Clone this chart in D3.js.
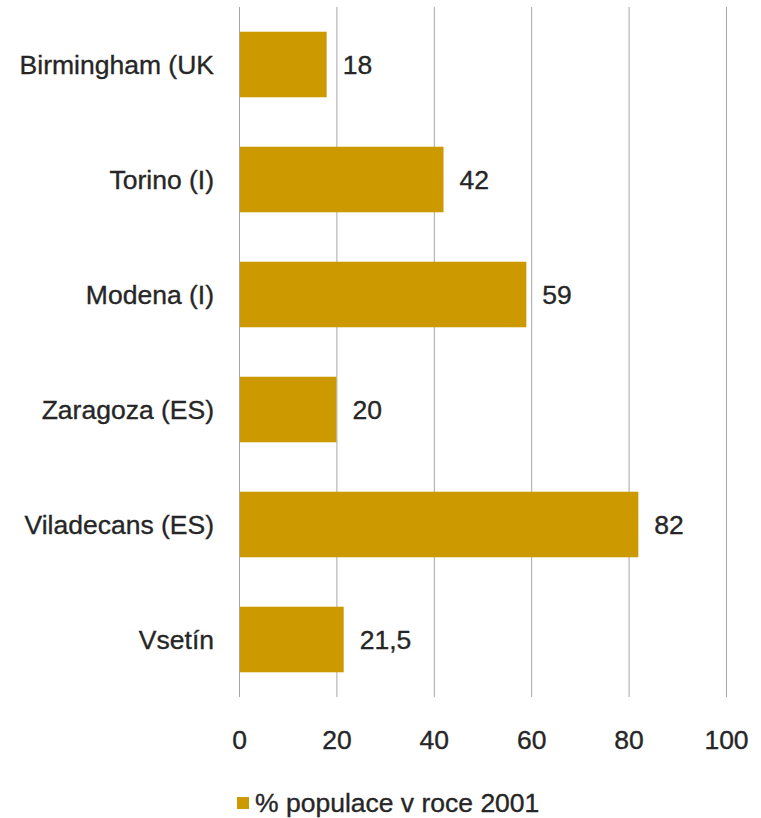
<!DOCTYPE html>
<html><head><meta charset="utf-8">
<script src="https://cdn.jsdelivr.net/npm/d3@7"></script>
<style>
html,body{margin:0;padding:0;background:#fff;}
text{font-family:"Liberation Sans",Arial,sans-serif;fill:#262626;stroke:#262626;stroke-width:0.35px;}
</style></head>
<body><svg id="c" width="761" height="818"></svg>
<script>
const categories = ["Birmingham (UK", "Torino (I)", "Modena (I)", "Zaragoza (ES)", "Viladecans (ES)", "Vsetín"];
const values = [18, 42, 59, 20, 82, 21.5];
const valueLabels = ["18", "42", "59", "20", "82", "21,5"];
const xTicks = [0, 20, 40, 60, 80, 100];
const seriesName = "% populace v roce 2001";

(function () {
const svg = d3.select("#c");
const pL = 239, pR = 726, pT = 7, pB = 697;
const x = d3.scaleLinear().domain([0, 100]).range([pL, pR]);
const y = d3.scaleBand().domain(categories).range([pT, pB]).paddingInner(0.43).paddingOuter(0.215);
const fs = 26.5;

// gridlines
svg.append("g").selectAll("line").data(xTicks).join("line")
  .attr("x1", d => x(d) + 0.5).attr("x2", d => x(d) + 0.5)
  .attr("y1", pT).attr("y2", pB)
  .attr("stroke", "#a6a6a6").attr("stroke-width", 1);

// bars
svg.append("g").selectAll("rect").data(values).join("rect")
  .attr("x", x(0) + 1).attr("y", (d, i) => y(categories[i]))
  .attr("width", d => x(d) - x(0) - 1).attr("height", y.bandwidth())
  .attr("fill", "#cc9900");

// value labels
svg.append("g").selectAll("text").data(values).join("text")
  .attr("x", d => x(d) + 16).attr("y", (d, i) => y(categories[i]) + y.bandwidth() / 2)
  .attr("dy", "0.35em").attr("font-size", fs)
  .text((d, i) => valueLabels[i]);

// category labels
svg.append("g").selectAll("text").data(categories).join("text")
  .attr("x", 214).attr("y", d => y(d) + y.bandwidth() / 2)
  .attr("dy", "0.35em").attr("text-anchor", "end").attr("font-size", fs)
  .text(d => d);

// x tick labels
const xAxis = d3.axisBottom(x).tickValues(xTicks).tickSize(0).tickPadding(0);
const ax = svg.append("g").attr("transform", "translate(0,740)").call(xAxis);
ax.select(".domain").remove();
ax.selectAll("text").attr("font-size", fs).attr("dy", "0.35em").attr("y", 0)
  .attr("font-family", "Liberation Sans, Arial, sans-serif").attr("fill", "#262626");

// legend
const lg = svg.append("g").attr("transform", "translate(237,797)");
lg.append("rect").attr("width", 12).attr("height", 12).attr("fill", "#cc9900");
lg.append("text").attr("x", 18).attr("y", 6).attr("dy", "0.35em").attr("font-size", fs)
  .text(seriesName);
})();
</script></body></html>
